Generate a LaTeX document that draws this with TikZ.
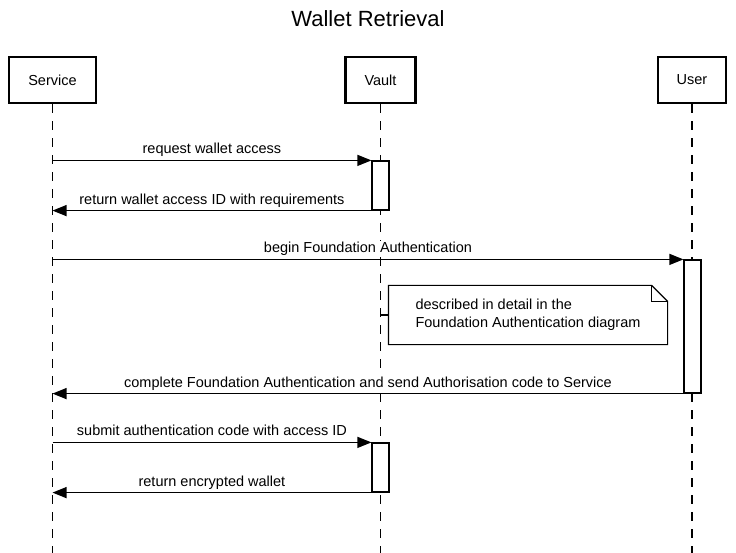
\documentclass[tikz,border=0pt]{standalone}
\usepackage{fontspec}
\setmainfont{Liberation Sans}
\usetikzlibrary{positioning, calc, arrows.meta}

\begin{document}
\begin{tikzpicture}[x=1pt,y=-1pt,>={Triangle[length=14pt,width=11pt]}, line width=1.2pt, font=\fontsize{14.5}{17.5}\selectfont,
  actor/.style={draw, fill=white, shape=rectangle, line width=2.4pt, minimum height=46pt, align=center},
  life/.style={dash pattern=on 9pt off 8pt},
  act/.style={draw, fill=white, shape=rectangle, minimum width=17pt},
  lbl/.style={anchor=base, yshift=6.5pt, inner sep=1pt, fill=white},
  note/.style={shape=rectangle, align=left, minimum width=278pt, minimum height=58pt},
  ]
  \useasboundingbox (0,0) rectangle (736,553);
  \node[font=\fontsize{22}{26}\selectfont, anchor=base] (title) at (368,27) {Wallet Retrieval};
  \node[actor, minimum width=86.5pt] (svc) at (52.5,80) {Service};
  \node[actor, minimum width=70pt] (vault) at (380.5,80) {Vault};
  \node[actor, minimum width=67.5pt] (user) at (692,80) {User};
  \coordinate (bot) at (0,553);
  \draw[life] (svc.south) -- (svc.south |- bot);
  \draw[life] (vault.south) -- (vault.south |- bot);
  \draw[life] (user.south) -- (user.south |- bot);
  \node[act, minimum height=49pt] (act1) at (380.5,185.5) {};
  \node[act, minimum height=133pt] (act2) at (692.5,326.5) {};
  \node[act, minimum height=49pt] (act3) at (380.5,467.5) {};
  \path[->]
    (svc.south |- act1.north) edge node[lbl] {request wallet access} (act1.north west)
    (act1.south west) edge node[lbl] {return wallet access ID with requirements} (svc.south |- act1.south)
    (svc.south |- act2.north) edge node[lbl] {begin Foundation Authentication} (act2.north west)
    (act2.south west) edge node[lbl] {complete Foundation Authentication and send Authorisation code to Service} (svc.south |- act2.south)
    (svc.south |- act3.north) edge node[lbl] {submit authentication code with access ID} (act3.north west)
    (act3.south west) edge node[lbl] {return encrypted wallet} (svc.south |- act3.south);
  \node[note] (info) at (528,315) {described in detail in the\\Foundation Authentication diagram};
  \draw[fill=white] (info.north west) -- ([xshift=-16pt]info.north east) -- ([yshift=-16pt]info.north east)
    -- (info.south east) -- (info.south west) -- cycle;
  \draw ([xshift=-16pt]info.north east) |- ([yshift=-16pt]info.north east);
  \node[note] at (info) {described in detail in the\\Foundation Authentication diagram};
  \draw (vault.south |- info.west) -- (info.west);
\end{tikzpicture}
\end{document}
